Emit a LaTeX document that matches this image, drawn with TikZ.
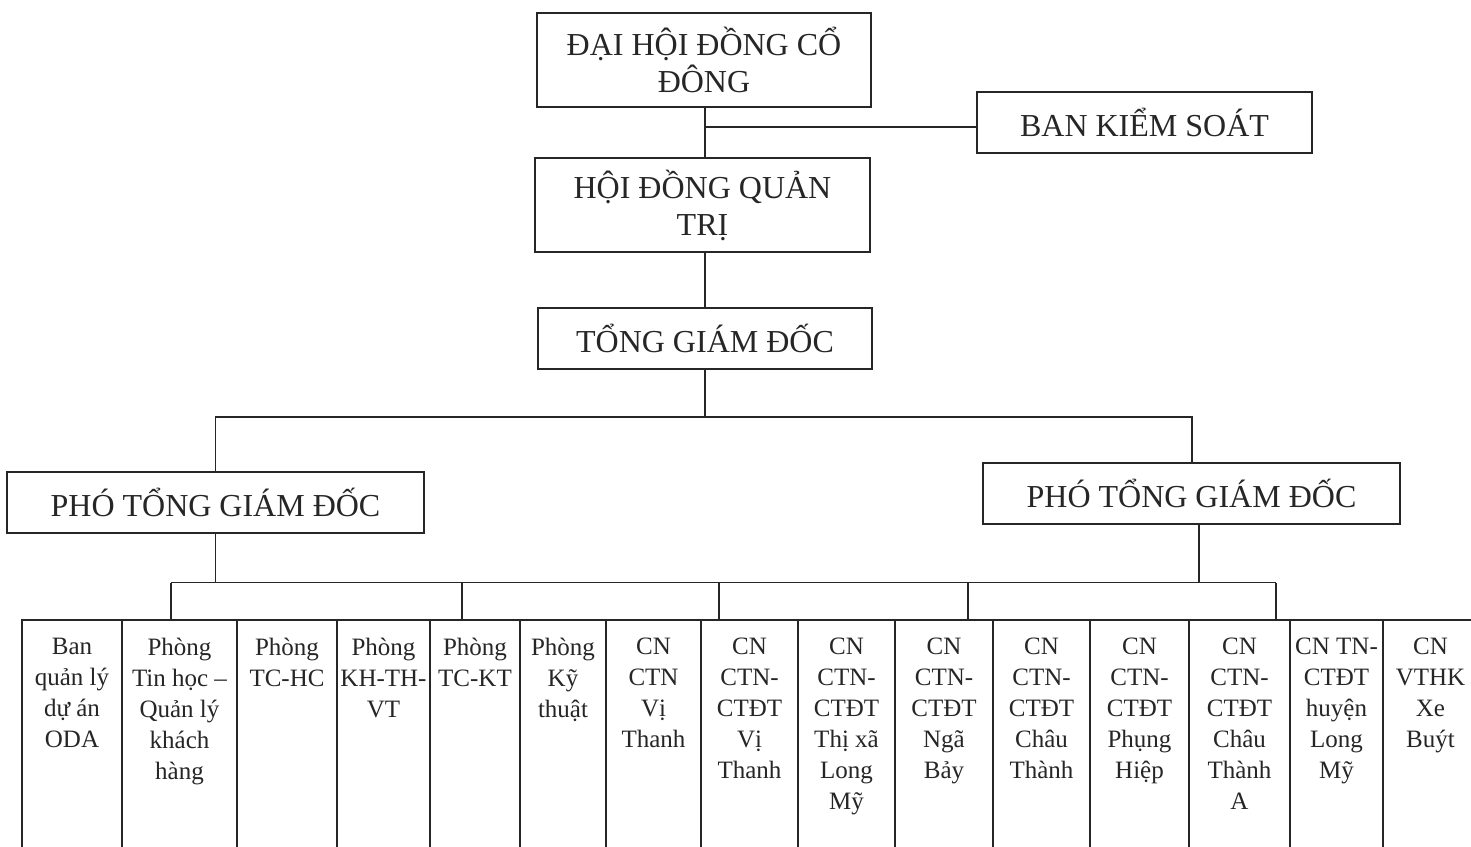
\documentclass[tikz,border=0pt]{standalone}
\usepackage{fontspec}
\setmainfont{Liberation Serif}
\definecolor{ink}{HTML}{262626}
\begin{document}
\begin{tikzpicture}[x=1pt,y=-1pt,
  box/.style={draw=ink, line width=1.9pt, align=center, text=ink, inner sep=0pt,
              font=\fontsize{32}{37}\selectfont},
  link/.style={draw=ink, line width=1.9pt},
  col/.style={draw=ink, line width=1.9pt, inner sep=0pt, anchor=north, minimum height=290pt},
  coltext/.style={align=center, text=ink, inner sep=0pt, anchor=north,
              font=\fontsize{25}{31}\selectfont}]
\useasboundingbox (0,0) rectangle (1471,846);
\clip (0,0) rectangle (1471,846);
\fill[white] (0,0) rectangle (1471,846);

% upper boxes
\node[box, minimum width=334pt, minimum height=94pt] (dh) at (704,60) {ĐẠI HỘI ĐỒNG CỔ\\ĐÔNG};
\node[box, minimum width=335pt, minimum height=61pt] (bks) at (1144.5,122.5) {BAN KIỂM SOÁT};
\node[box, minimum width=335pt, minimum height=94pt] (hd) at (702.5,205) {HỘI ĐỒNG QUẢN\\TRỊ};
\node[box, minimum width=334pt, minimum height=61pt] (tgd) at (705,338.5) {TỔNG GIÁM ĐỐC};
\node[box, minimum width=417pt, minimum height=61pt] (p1) at (215.5,502.5) {PHÓ TỔNG GIÁM ĐỐC};
\node[box, minimum width=417pt, minimum height=61pt] (p2) at (1191.5,493.5) {PHÓ TỔNG GIÁM ĐỐC};

% connectors upper part
\coordinate (k) at (705,127);
\draw[link] (dh.south -| k) -- (hd.north -| k);
\draw[link] (k) -- (k -| bks.west);
\draw[link] (hd.south -| k) -- (tgd.north -| k);
\coordinate (u1) at (215.5,417);
\coordinate (u2) at (1192,417);
\draw[link] (tgd.south) -- (tgd.south |- u1);
\draw[link] (p1.north -| u1) -- (u1) -- (u2) -- (u2 |- p2.north);

% bottom columns
\foreach \l/\r/\t [count=\i] in {
  22/122/{Ban\\quản lý\\dự án\\ODA},
  122/237/{Phòng\\Tin học –\\Quản lý\\khách\\hàng},
  237/337/{Phòng\\TC-HC},
  337/430/{Phòng\\KH-TH-\\VT},
  430/520/{Phòng\\TC-KT},
  520/606/{Phòng\\Kỹ\\thuật},
  606/701/{CN\\CTN\\Vị\\Thanh},
  701/798/{CN\\CTN-\\CTĐT\\Vị\\Thanh},
  798/895/{CN\\CTN-\\CTĐT\\Thị xã\\Long\\Mỹ},
  895/993/{CN\\CTN-\\CTĐT\\Ngã\\Bảy},
  993/1090/{CN\\CTN-\\CTĐT\\Châu\\Thành},
  1090/1189/{CN\\CTN-\\CTĐT\\Phụng\\Hiệp},
  1189/1290/{CN\\CTN-\\CTĐT\\Châu\\Thành\\A},
  1290/1383/{CN TN-\\CTĐT\\huyện\\Long\\Mỹ},
  1383/1478/{CN\\VTHK\\Xe\\Buýt}} {
  \pgfmathsetmacro{\w}{\r-\l}
  \pgfmathsetmacro{\cx}{(\r+\l)/2}
  \node[col, minimum width=\w pt] (c\i) at (\cx,619) {};
  \node[coltext] (t\i) at ([yshift=-19pt]c\i.north) {\t};
}

% lower bus
\coordinate (l1) at (171,582.5);
\coordinate (l2) at (462,582.5);
\coordinate (l3) at (719,582.5);
\coordinate (l4) at (968,582.5);
\coordinate (l5) at (1276,582.5);
\draw[link] (p1.south -| u1) -- (p1.south |- l1);
\draw[link] ([xshift=7.5pt]p2.south) -- ([xshift=7.5pt]p2.south |- l1);
\draw[link] (l1) -- (l5);
\draw[link] (l1) -- (l1 |- c2.north);
\draw[link] (l2) -- (l2 |- c5.north);
\draw[link] (l3) -- (l3 |- c8.north);
\draw[link] (l4) -- (l4 |- c10.north);
\draw[link] (l5) -- (l5 |- c13.north);
\end{tikzpicture}
\end{document}
